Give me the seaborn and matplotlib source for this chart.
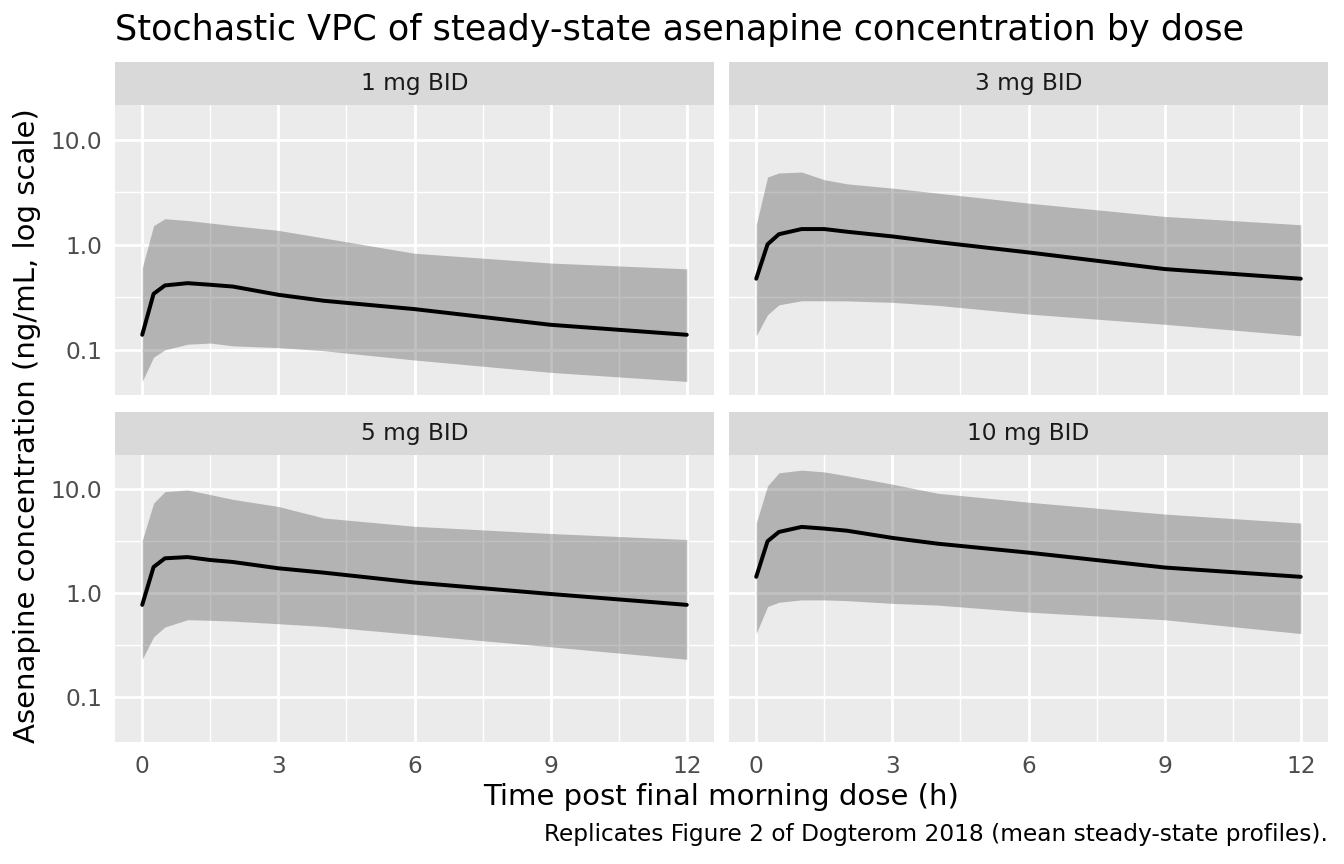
import numpy as np
import pandas as pd
import matplotlib
matplotlib.use("Agg")
from matplotlib import pyplot as plt
from matplotlib.patches import Rectangle
from matplotlib.ticker import FixedLocator, NullFormatter
import seaborn as sns

# Data (ng/mL)
time_h = [0, 0.25, 0.5, 1, 1.5, 2, 3, 4, 6, 9, 12]
doses = ["1 mg BID", "3 mg BID", "5 mg BID", "10 mg BID"]

median_1mg = [0.139, 0.341, 0.41, 0.431, 0.416, 0.40, 0.334, 0.293, 0.244, 0.173, 0.139]
upper_1mg = [0.60, 1.52, 1.77, 1.70, 1.61, 1.52, 1.37, 1.16, 0.83, 0.67, 0.59]
lower_1mg = [0.050, 0.085, 0.100, 0.113, 0.116, 0.109, 0.105, 0.098, 0.080, 0.061, 0.050]

median_3mg = [0.475, 1.01, 1.26, 1.41, 1.41, 1.33, 1.20, 1.06, 0.845, 0.587, 0.475]
upper_3mg = [1.55, 4.41, 4.82, 4.92, 4.16, 3.80, 3.46, 3.10, 2.49, 1.86, 1.55]
lower_3mg = [0.136, 0.216, 0.268, 0.293, 0.293, 0.292, 0.283, 0.265, 0.219, 0.175, 0.136]

median_5mg = [0.774, 1.79, 2.17, 2.23, 2.09, 2.00, 1.74, 1.58, 1.27, 0.985, 0.774]
upper_5mg = [3.22, 7.36, 9.50, 9.86, 8.90, 8.00, 6.84, 5.30, 4.41, 3.76, 3.29]
lower_5mg = [0.232, 0.381, 0.474, 0.557, 0.550, 0.540, 0.510, 0.480, 0.401, 0.306, 0.232]

median_10mg = [1.44, 3.17, 3.89, 4.35, 4.19, 4.00, 3.41, 3.00, 2.46, 1.77, 1.44]
upper_10mg = [4.74, 10.8, 14.4, 15.3, 14.7, 13.5, 11.2, 9.16, 7.52, 5.78, 4.74]
lower_10mg = [0.41, 0.746, 0.82, 0.864, 0.864, 0.85, 0.80, 0.77, 0.659, 0.557, 0.41]

medians = [median_1mg, median_3mg, median_5mg, median_10mg]
uppers = [upper_1mg, upper_3mg, upper_5mg, upper_10mg]
lowers = [lower_1mg, lower_3mg, lower_5mg, lower_10mg]

frames = []
for dose, med, hi, lo in zip(doses, medians, uppers, lowers):
    frames.append(pd.DataFrame({"time": time_h, "median": med, "hi": hi, "lo": lo, "dose": dose}))
df = pd.concat(frames, ignore_index=True)

sns.set_theme(style="darkgrid", rc={
    "axes.facecolor": "#EBEBEB",
    "grid.color": "white",
    "axes.edgecolor": "none",
})
plt.rcParams["font.family"] = ["DejaVu Sans"]

W, H = 1344, 864
fig = plt.figure(figsize=(W / 150, H / 150), dpi=150)

# panel boxes in pixels (left, top, right, bottom)
boxes = [(115, 105, 714, 395), (729, 105, 1328, 395),
         (115, 455, 714, 742), (729, 455, 1328, 742)]
strip_h = 43
small = 11.2

for i, (dose, (l, t, r, b)) in enumerate(zip(doses, boxes)):
    ax = fig.add_axes([l / W, 1 - b / H, (r - l) / W, (b - t) / H])
    sub = df[df["dose"] == dose]
    ax.fill_between(sub["time"], sub["lo"], sub["hi"], color="#4D4D4D", alpha=0.35, lw=0, zorder=2)
    sns.lineplot(data=sub, x="time", y="median", ax=ax, color="black", lw=1.9, zorder=3)

    ax.set_yscale("log")
    ax.set_ylim(10 ** -1.43, 10 ** 1.33)
    ax.set_xlim(-0.6, 12.6)
    ax.set_xticks([0, 3, 6, 9, 12])
    ax.xaxis.set_minor_locator(FixedLocator([1.5, 4.5, 7.5, 10.5]))
    ax.yaxis.set_major_locator(FixedLocator([0.1, 1.0, 10.0]))
    ax.yaxis.set_minor_locator(FixedLocator([10 ** -0.5, 10 ** 0.5]))
    ax.yaxis.set_minor_formatter(NullFormatter())
    ax.set_yticklabels(["0.1", "1.0", "10.0"])
    ax.grid(which="major", color="white", lw=1.36)
    ax.grid(which="minor", color="white", lw=0.68)
    ax.set_axisbelow(True)
    ax.set_xlabel("")
    ax.set_ylabel("")
    ax.tick_params(which="minor", length=0)
    ax.tick_params(which="major", length=3.5, width=1.36, color="#333333",
                   labelsize=small, labelcolor="#4D4D4D", pad=2.8)
    if i < 2:
        ax.tick_params(axis="x", which="major", length=0, labelbottom=False)
    if i % 2 == 1:
        ax.tick_params(axis="y", which="major", length=0, labelleft=False)

    # facet strip
    sh = strip_h / (b - t)
    ax.add_patch(Rectangle((0, 1), 1, sh, transform=ax.transAxes, clip_on=False,
                           facecolor="#D9D9D9", edgecolor="none"))
    ax.text(0.5, 1 + sh / 2, dose, transform=ax.transAxes, ha="center", va="center",
            fontsize=small, color="#1A1A1A")

fig.text(115 / W, 1 - 30 / H, "Stochastic VPC of steady-state asenapine concentration by dose",
         ha="left", va="center", fontsize=16.8, color="black")
fig.text(721 / W, 1 - 797 / H, "Time post final morning dose (h)", ha="center", va="center",
         fontsize=14, color="black")
fig.text(27 / W, 1 - 426 / H, "Asenapine concentration (ng/mL, log scale)", ha="center",
         va="center", rotation=90, fontsize=14, color="black")
fig.text(1328 / W, 1 - 835 / H, "Replicates Figure 2 of Dogterom 2018 (mean steady-state profiles).",
         ha="right", va="center", fontsize=small, color="black")

fig.savefig("out.png", dpi=150, facecolor="white")
